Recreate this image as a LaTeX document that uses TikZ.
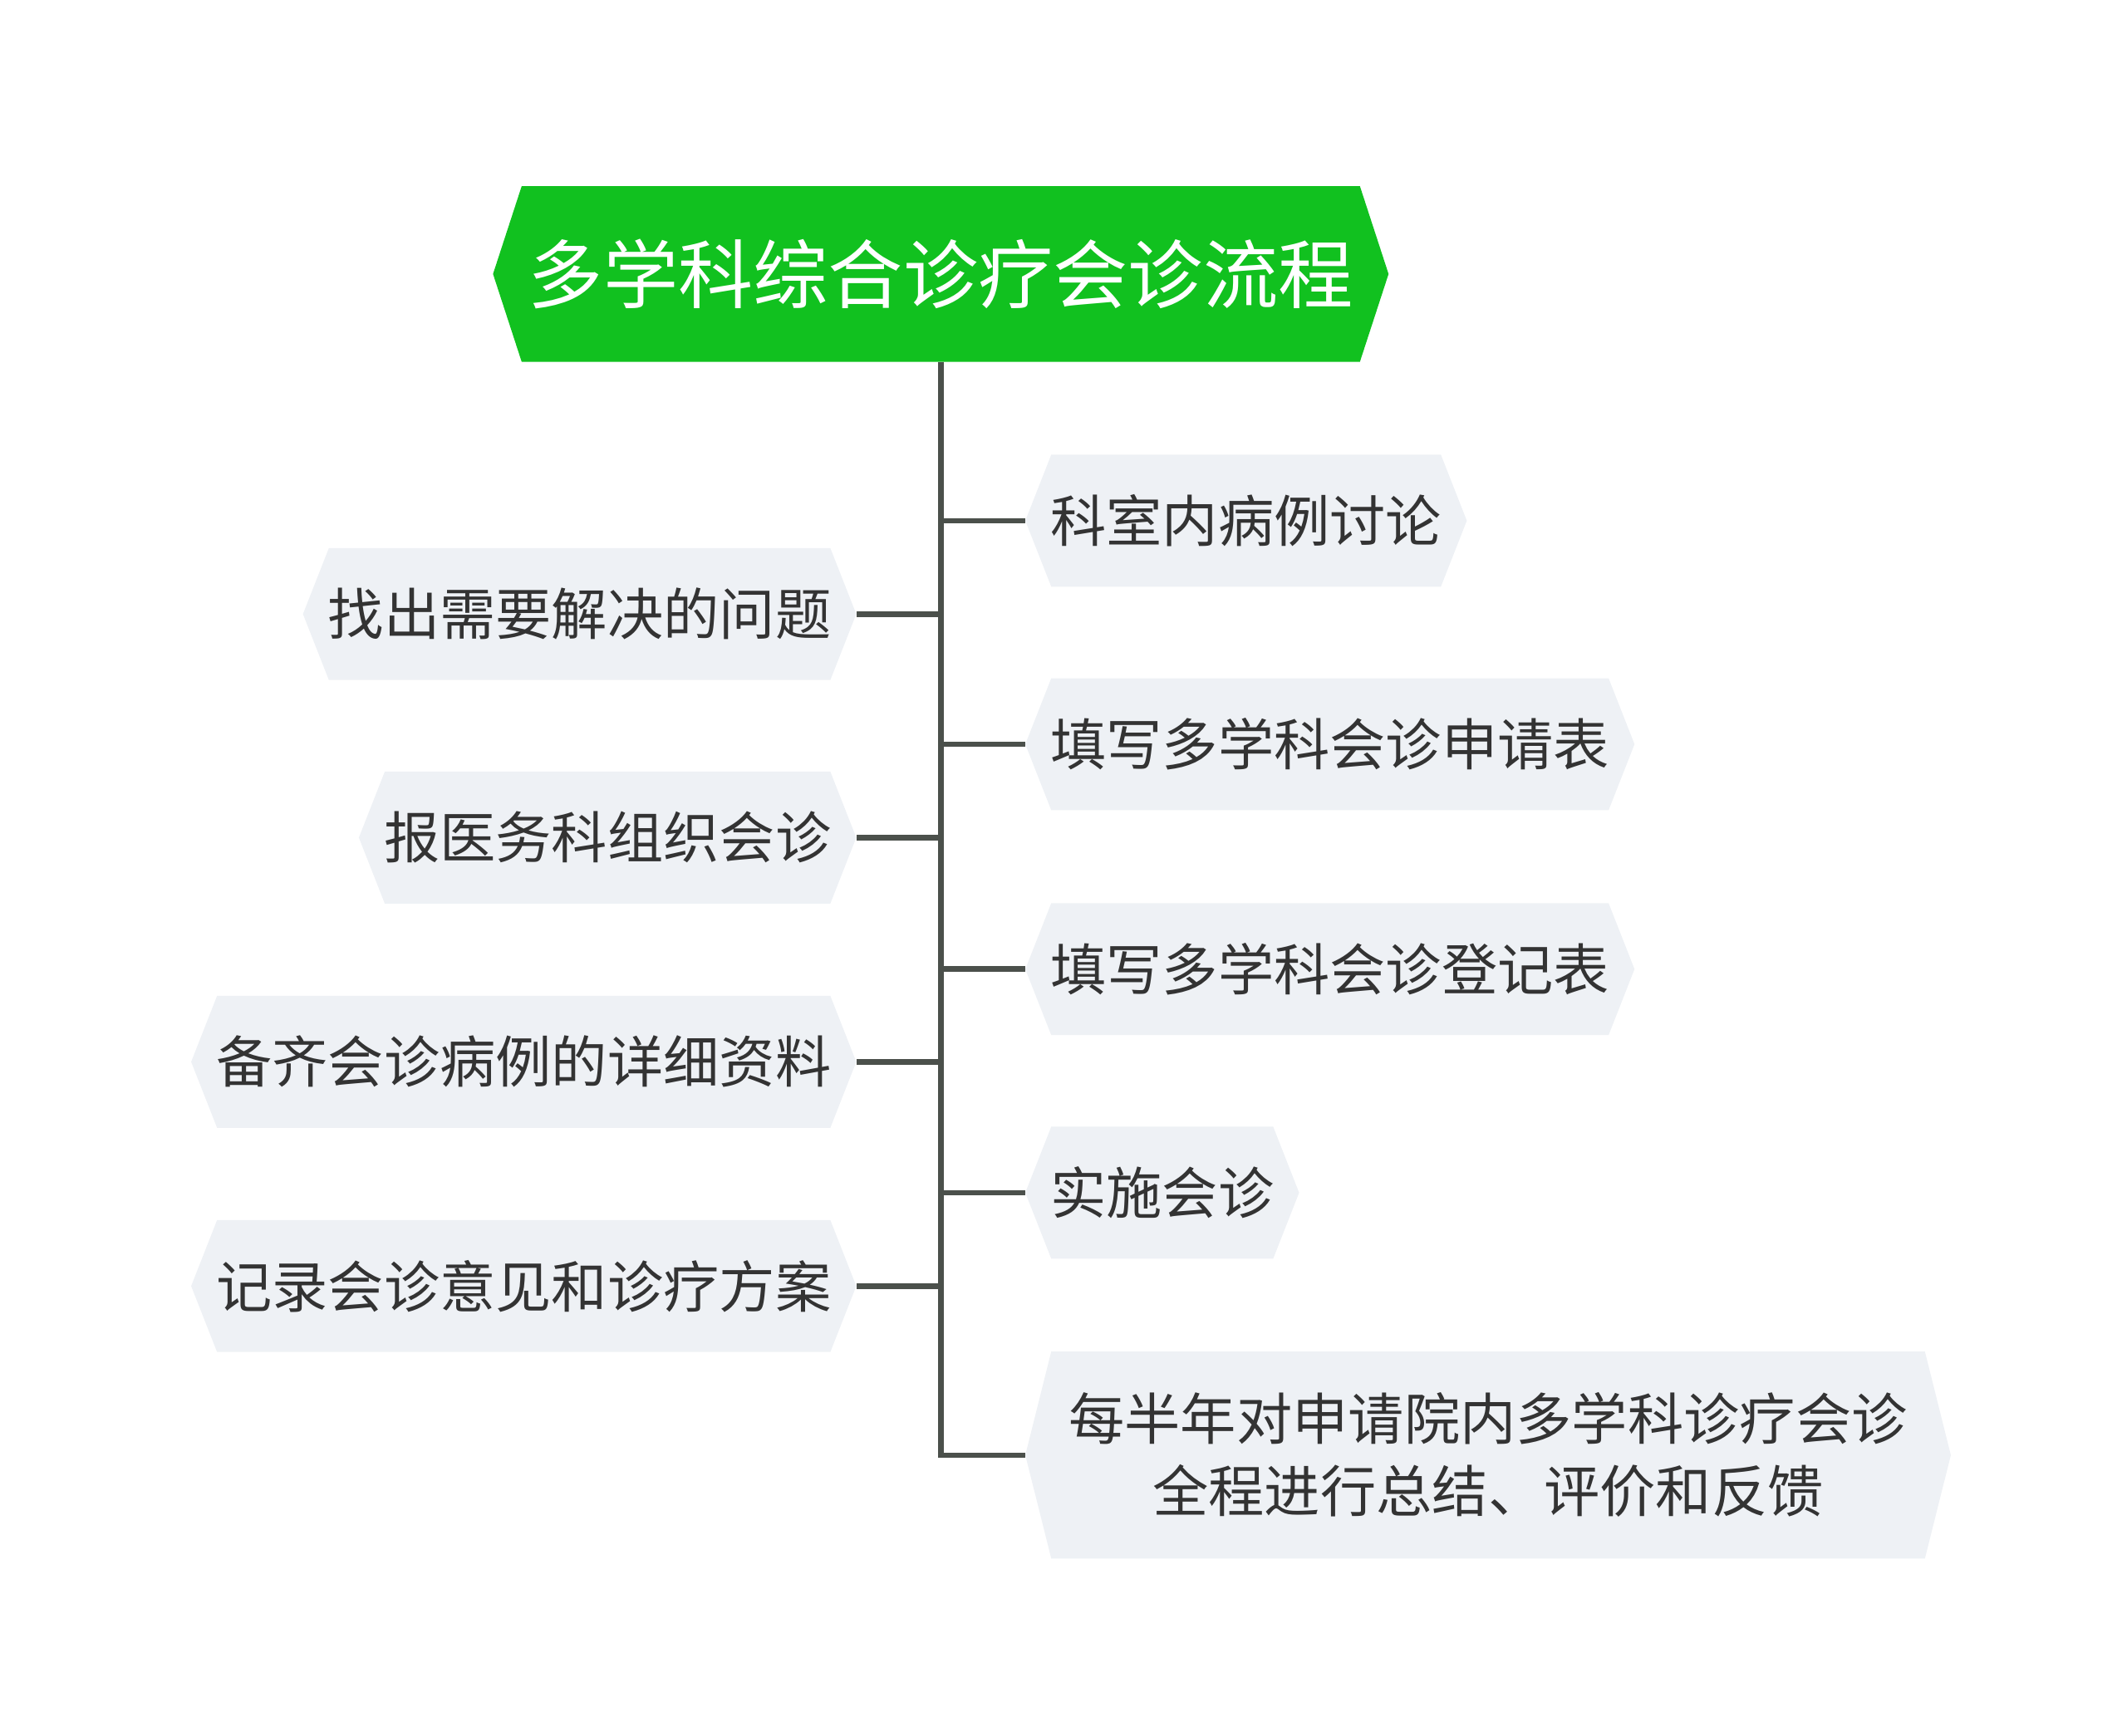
\documentclass[tikz,border=0pt]{standalone}
\usepackage{fontspec}
\setmainfont{Noto Sans CJK SC}
\usetikzlibrary{positioning}
\definecolor{rootgreen}{RGB}{17,193,31}
\definecolor{leafgray}{RGB}{238,241,245}
\definecolor{linegray}{RGB}{75,80,75}
\definecolor{textgray}{RGB}{51,51,51}
\tikzset{
  rootbox/.style={
    text=white,
    font=\fontsize{27.5}{33}\selectfont,
    minimum width=328pt,
    minimum height=64pt,
    inner sep=0pt
  },
  leaf/.style={
    text=textgray,
    font=\fontsize{20.5}{26.5}\selectfont,
    minimum height=48pt,
    inner xsep=9pt,
    inner ysep=0pt,
    align=center
  },
  conn/.style={draw=linegray, line width=2pt}
}
\pgfdeclarelayer{background}
\pgfsetlayers{background,main}

\begin{document}
\begin{tikzpicture}[x=0.5pt,y=-0.5pt]
\useasboundingbox (0,0) rectangle (1560,1273);

\node[rootbox] (root) at (690,201) {多学科综合诊疗会诊流程};

% right side
\node[leaf,anchor=west] (k1) at (752,382) {科室内病例讨论};
\node[leaf,anchor=west] (k2) at (752,546) {填写多学科会诊申请表};
\node[leaf,anchor=west] (k3) at (752,711) {填写多学科会诊登记表};
\node[leaf,anchor=west] (k4) at (752,875) {实施会诊};
\node[leaf,anchor=west,minimum height=75.5pt,minimum width=339pt] (k5) at (752,1067.5)
  {每半年对申请院内多学科诊疗会诊\\全程进行总结、评价和反馈};

% left side
\node[leaf,anchor=east] (j1) at (628,450.5) {找出需要解决的问题};
\node[leaf,anchor=east] (j2) at (628,614.5) {报医务科组织会诊};
\node[leaf,anchor=east] (j3) at (628,779) {备齐会诊病例的详细资料};
\node[leaf,anchor=east] (j4) at (628,943.5) {记录会诊意见和诊疗方案};

\begin{pgfonlayer}{background}
\fill[rootgreen] ([xshift=10.5pt]root.north west) -- ([xshift=-10.5pt]root.north east)
  -- (root.east) -- ([xshift=-10.5pt]root.south east)
  -- ([xshift=10.5pt]root.south west) -- (root.west) -- cycle;
\foreach \n in {k1,k2,k3,k4,k5,j1,j2,j3,j4}
  \fill[leafgray] ([xshift=9.5pt]\n.north west) -- ([xshift=-9.5pt]\n.north east)
    -- (\n.east) -- ([xshift=-9.5pt]\n.south east)
    -- ([xshift=9.5pt]\n.south west) -- (\n.west) -- cycle;
\end{pgfonlayer}

% connectors
\coordinate (trunk) at (root.south);
\draw[conn] (trunk) |- (k5.west);
\foreach \n in {k1,k2,k3,k4}
  \draw[conn] (trunk |- \n.west) -- (\n.west);
\foreach \n in {j1,j2,j3,j4}
  \draw[conn] (trunk |- \n.east) -- (\n.east);

\end{tikzpicture}
\end{document}
